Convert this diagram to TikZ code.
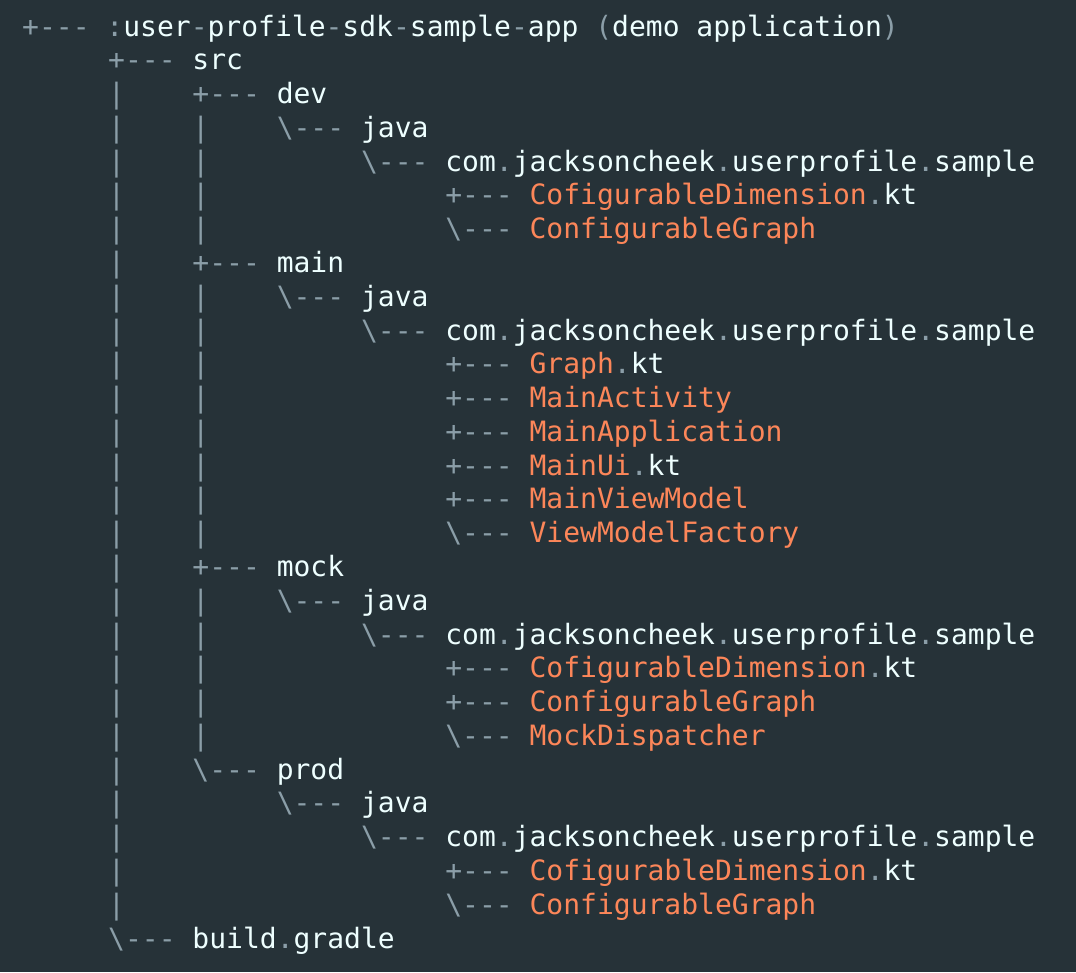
\documentclass[tikz,border=0pt]{standalone}
\usepackage{fontspec}
\setmonofont{DejaVu Sans Mono}
\usepackage{tikz}

\definecolor{bgcol}{HTML}{263238}
\definecolor{treecol}{HTML}{8B9EA8}
\definecolor{txtcol}{HTML}{EEFFFF}
\definecolor{filecol}{HTML}{FC8659}

% tree pieces
\newcommand{\vb}{\textcolor{treecol}{|}\phantom{0000}}
\newcommand{\gp}{\phantom{00000}}
\newcommand{\tee}{\textcolor{treecol}{+---}\phantom{0}}
\newcommand{\lst}{\textcolor{treecol}{\textbackslash---}\phantom{0}}
\newcommand{\dt}{\textcolor{treecol}{.}}
\newcommand{\hy}{\textcolor{treecol}{-}}
\newcommand{\fl}[1]{\textcolor{filecol}{#1}}
\newcommand{\pkg}{com\dt jacksoncheek\dt userprofile\dt sample}

\begin{document}
\begin{tikzpicture}[
    x=1pt, y=-1pt,
    line/.style={anchor=base west, inner sep=0pt, text=txtcol,
      font=\ttfamily\fontsize{28}{34}\selectfont}
  ]
  \fill[bgcol] (0,0) rectangle (1076,972);
  \useasboundingbox (0,0) rectangle (1076,972);

  \node[line] (l1) at (22,36) {\tee\textcolor{treecol}{:}user\hy profile\hy sdk\hy sample\hy app\phantom{0}\textcolor{treecol}{(}demo application\textcolor{treecol}{)}};
  \node[line] (l2) at (108,69.78) {\tee src};
  \node[line] (l3) at (108,103.56) {\vb\tee dev};
  \node[line] (l4) at (108,137.34) {\vb\vb\lst java};
  \node[line] (l5) at (108,171.12) {\vb\vb\gp\lst\pkg};
  \node[line] (l6) at (108,204.9) {\vb\vb\gp\gp\tee\fl{CofigurableDimension}\dt kt};
  \node[line] (l7) at (108,238.68) {\vb\vb\gp\gp\lst\fl{ConfigurableGraph}};
  \node[line] (l8) at (108,272.46) {\vb\tee main};
  \node[line] (l9) at (108,306.24) {\vb\vb\lst java};
  \node[line] (l10) at (108,340.02) {\vb\vb\gp\lst\pkg};
  \node[line] (l11) at (108,373.8) {\vb\vb\gp\gp\tee\fl{Graph}\dt kt};
  \node[line] (l12) at (108,407.58) {\vb\vb\gp\gp\tee\fl{MainActivity}};
  \node[line] (l13) at (108,441.36) {\vb\vb\gp\gp\tee\fl{MainApplication}};
  \node[line] (l14) at (108,475.14) {\vb\vb\gp\gp\tee\fl{MainUi}\dt kt};
  \node[line] (l15) at (108,508.92) {\vb\vb\gp\gp\tee\fl{MainViewModel}};
  \node[line] (l16) at (108,542.7) {\vb\vb\gp\gp\lst\fl{ViewModelFactory}};
  \node[line] (l17) at (108,576.48) {\vb\tee mock};
  \node[line] (l18) at (108,610.26) {\vb\vb\lst java};
  \node[line] (l19) at (108,644.04) {\vb\vb\gp\lst\pkg};
  \node[line] (l20) at (108,677.82) {\vb\vb\gp\gp\tee\fl{CofigurableDimension}\dt kt};
  \node[line] (l21) at (108,711.6) {\vb\vb\gp\gp\tee\fl{ConfigurableGraph}};
  \node[line] (l22) at (108,745.38) {\vb\vb\gp\gp\lst\fl{MockDispatcher}};
  \node[line] (l23) at (108,779.16) {\vb\lst prod};
  \node[line] (l24) at (108,812.94) {\vb\gp\lst java};
  \node[line] (l25) at (108,846.72) {\vb\gp\gp\lst\pkg};
  \node[line] (l26) at (108,880.5) {\vb\gp\gp\gp\tee\fl{CofigurableDimension}\dt kt};
  \node[line] (l27) at (108,914.28) {\vb\gp\gp\gp\lst\fl{ConfigurableGraph}};
  \node[line] (l28) at (108,948.06) {\lst build\dt gradle};
\end{tikzpicture}
\end{document}
